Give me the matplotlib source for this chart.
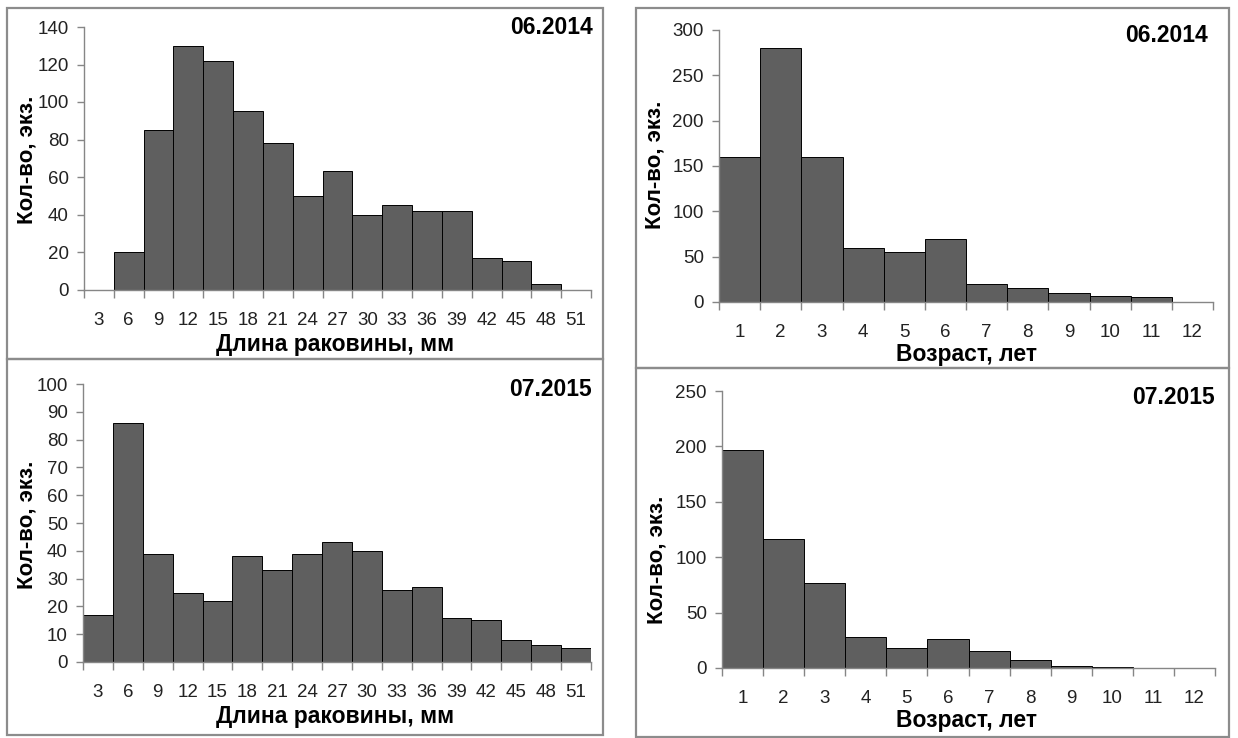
import matplotlib
matplotlib.use("Agg")
import matplotlib.pyplot as plt
from matplotlib.patches import Rectangle

plt.rcParams['font.family'] = ['Liberation Sans', 'DejaVu Sans']

# ---- data ----
length_labels = [3, 6, 9, 12, 15, 18, 21, 24, 27, 30, 33, 36, 39, 42, 45, 48, 51]
length_2014 = [0, 20, 85, 130, 122, 95, 78, 50, 63, 40, 45, 42, 42, 17, 15, 3, 0]
length_2015 = [17, 86, 39, 25, 22, 38, 33, 39, 43, 40, 26, 27, 16, 15, 8, 6, 5]

age_labels = [1, 2, 3, 4, 5, 6, 7, 8, 9, 10, 11, 12]
age_2014 = [160, 280, 160, 60, 55, 70, 20, 15, 10, 7, 5, 0]
age_2015 = [197, 116, 77, 28, 18, 26, 15, 7, 2, 1, 0, 0]

W, H = 1238, 738
fig = plt.figure(figsize=(W / 100, H / 100), dpi=100)

def fx(x):
    return x / W

def fy(y):
    return 1 - y / H

# panel borders (pixels: x0, y0, x1, y1)
for (x0, y0, x1, y1) in [(7, 8, 603, 359), (7, 359, 603, 735),
                         (636, 8, 1229, 368), (636, 368, 1229, 737)]:
    fig.patches.append(Rectangle((fx(x0), fy(y1)), fx(x1) - fx(x0), fy(y0) - fy(y1),
                                 transform=fig.transFigure, fill=False,
                                 edgecolor='#8c8c8c', linewidth=1.6))

AX_COL = '#868686'
TICK_FS = 13.5
LABEL_FS = 16.5
TITLE_FS = 16.5

def panel(box, labels, values, ymax, ystep, title, title_xy, xlabel, xlabel_xy,
          ylabel_xy, tickpad):
    x0, ytop, x1, y0 = box
    ax = fig.add_axes([fx(x0), fy(y0), fx(x1) - fx(x0), fy(ytop) - fy(y0)])
    n = len(labels)
    pos = list(range(n))
    ax.bar(pos, values, width=1.0, color='#5f5f5f', edgecolor='black', linewidth=0.7)
    ax.set_xlim(-0.5, n - 0.5)
    ax.set_ylim(0, ymax)
    ax.set_yticks(list(range(0, ymax + 1, ystep)))
    for s in ['top', 'right']:
        ax.spines[s].set_visible(False)
    for s in ['left', 'bottom']:
        ax.spines[s].set_color(AX_COL)
        ax.spines[s].set_linewidth(1.0)
    ax.set_xticks([i - 0.5 for i in range(n + 1)])
    ax.set_xticklabels([])
    ax.set_xticks(pos, minor=True)
    ax.set_xticklabels([str(v) for v in labels], minor=True)
    ax.tick_params(axis='x', which='major', length=6, color=AX_COL, width=1.0, direction='out')
    ax.tick_params(axis='x', which='minor', length=0, pad=tickpad, labelsize=TICK_FS,
                   labelcolor='#222222')
    ax.tick_params(axis='y', length=5, color=AX_COL, width=1.0, direction='out', pad=6,
                   labelsize=TICK_FS, labelcolor='#222222')
    ax.set_xlabel(xlabel, fontsize=LABEL_FS, fontweight='bold')
    ax.xaxis.set_label_coords(fx(xlabel_xy[0]), fy(xlabel_xy[1]), transform=fig.transFigure)
    ax.xaxis.label.set_va('center')
    ax.set_ylabel('Кол-во, экз.', fontsize=16, fontweight='bold')
    ax.yaxis.set_label_coords(fx(ylabel_xy[0]), fy(ylabel_xy[1]), transform=fig.transFigure)
    ax.yaxis.label.set_va('center')
    fig.text(fx(title_xy[0]), fy(title_xy[1]), title, ha='right', va='center',
             fontsize=TITLE_FS, fontweight='bold')
    return ax

panel((84, 27, 591, 289.5), length_labels, length_2014, 140, 20, '06.2014', (593, 27),
      'Длина раковины, мм', (335, 344), (27, 160), 16)
panel((83, 384, 591, 662), length_labels, length_2015, 100, 10, '07.2015', (592, 390),
      'Длина раковины, мм', (335, 717), (27, 525), 16)
panel((719, 30, 1213, 302), age_labels, age_2014, 300, 50, '06.2014', (1208, 35),
      'Возраст, лет', (966, 355), (655, 165), 16)
panel((722, 391, 1215, 668), age_labels, age_2015, 250, 50, '07.2015', (1215, 397),
      'Возраст, лет', (966, 721), (657, 560), 16)

fig.savefig('out.png', dpi=100)
